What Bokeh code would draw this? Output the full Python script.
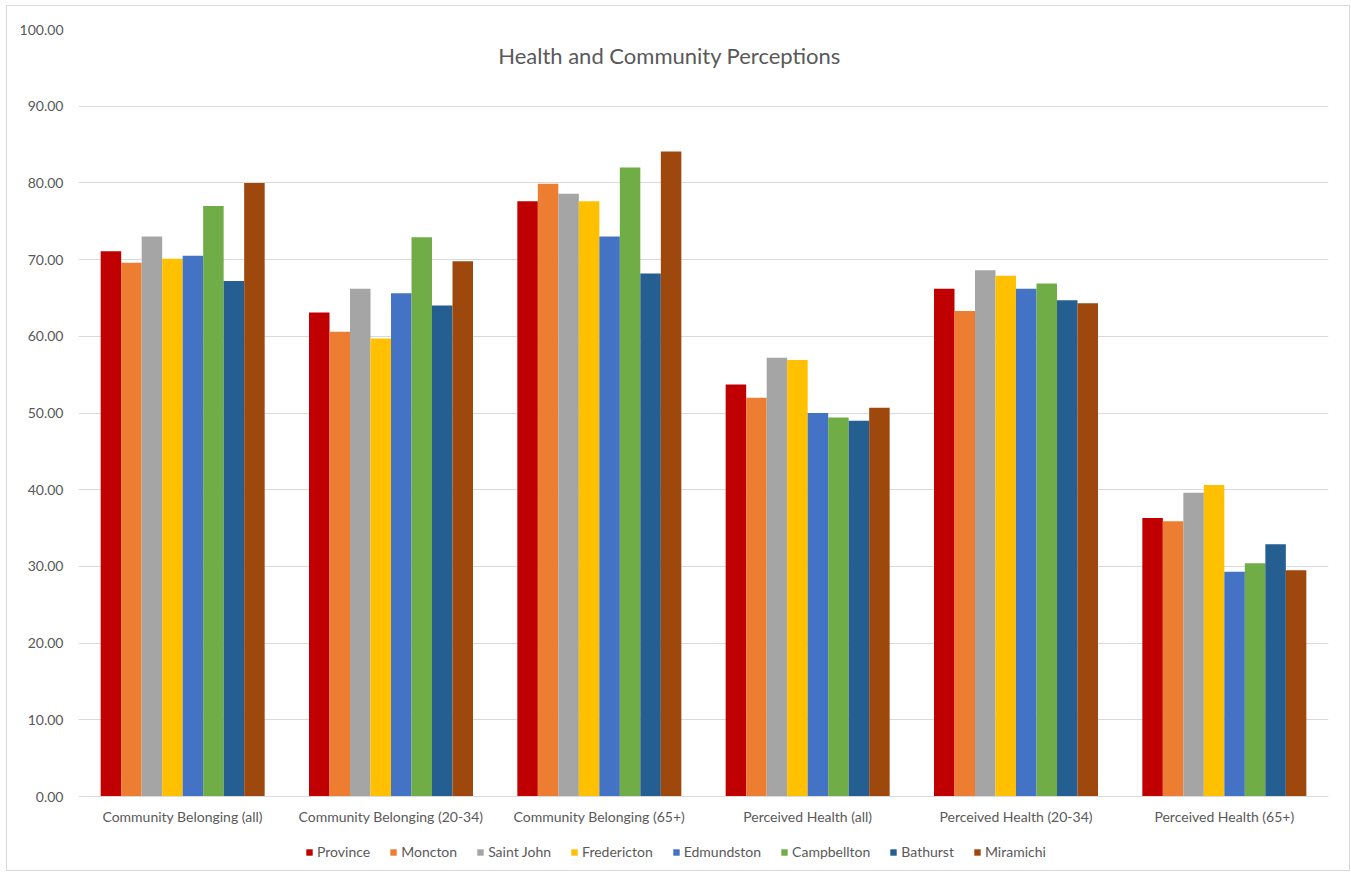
from bokeh.plotting import figure
from bokeh.models import Legend, LegendItem, Label, NumeralTickFormatter, FixedTicker, Range1d
from bokeh.transform import dodge
from bokeh.embed import file_html
from bokeh.resources import INLINE

categories = ["Community Belonging (all)", "Community Belonging (20-34)", "Community Belonging (65+)",
              "Perceived Health (all)", "Perceived Health (20-34)", "Perceived Health (65+)"]
series = ["Province", "Moncton", "Saint John", "Fredericton", "Edmundston", "Campbellton", "Bathurst", "Miramichi"]
colors = ["#C00000", "#ED7D31", "#A5A5A5", "#FFC000", "#4472C4", "#70AD47", "#255E91", "#9E480E"]

province = [71.1, 63.1, 77.6, 53.7, 66.2, 36.3]
moncton = [69.6, 60.6, 79.9, 52.0, 63.3, 35.9]
saint_john = [73.0, 66.2, 78.6, 57.2, 68.6, 39.6]
fredericton = [70.1, 59.7, 77.6, 56.9, 67.9, 40.6]
edmundston = [70.5, 65.6, 73.0, 50.0, 66.2, 29.3]
campbellton = [77.0, 72.9, 82.0, 49.4, 66.9, 30.4]
bathurst = [67.2, 64.0, 68.2, 49.0, 64.7, 32.9]
miramichi = [80.0, 69.8, 84.1, 50.7, 64.3, 29.5]

values_list = [province, moncton, saint_john, fredericton, edmundston, campbellton, bathurst, miramichi]

data = {"cat": categories}
keys = []
for i, vals in enumerate(values_list):
    k = "s%d" % i
    keys.append(k)
    data[k] = vals

FONT = "Lato"
TXT = "#595959"

# frame spans 29..868 px; value 0 sits at 796 px, leaving room for labels + legend inside
FRAME_H = 839
PX_PER_UNIT = (796 - 29) / 100.0
Y_MIN = -(868 - 796) / PX_PER_UNIT

p = figure(x_range=categories, y_range=Range1d(Y_MIN, 100), frame_width=1250, frame_height=FRAME_H,
           output_backend="svg", toolbar_location=None,
           min_border_left=71, min_border_right=21, min_border_top=23, min_border_bottom=2)
p.margin = (6, 0, 0, 7)
p.styles = {"outline": "1px solid #D9D9D9"}
p.outline_line_color = None
p.background_fill_color = "white"
p.border_fill_color = "white"

bw = 0.0984
renderers = []
for i, k in enumerate(keys):
    r = p.vbar(x=dodge("cat", (i - 3.5) * bw, range=p.x_range), top=k, width=bw, bottom=0,
               source=data, fill_color=colors[i], line_color=None)
    renderers.append(r)

# Axes
p.yaxis.ticker = FixedTicker(ticks=list(range(0, 101, 10)))
p.yaxis.formatter = NumeralTickFormatter(format="0.00")
p.yaxis.axis_line_color = None
p.yaxis.major_tick_line_color = None
p.yaxis.minor_tick_line_color = None
p.yaxis.major_label_text_font = FONT
p.yaxis.major_label_text_font_size = "14px"
p.yaxis.major_label_text_color = TXT
p.yaxis.major_label_standoff = 9

p.xaxis.fixed_location = 0
p.xaxis.axis_line_color = "#D9D9D9"
p.xaxis.major_tick_line_color = None
p.xaxis.minor_tick_line_color = None
p.xaxis.major_label_text_font = FONT
p.xaxis.major_label_text_font_size = "14px"
p.xaxis.major_label_text_color = TXT
p.xaxis.major_label_standoff = 5

p.xgrid.grid_line_color = None
p.ygrid.grid_line_color = "#D9D9D9"
p.ygrid.grid_line_width = 1

title = Label(x=2.837, y=96.6, text="Health and Community Perceptions", text_font=FONT,
              text_font_size="22px", text_color=TXT, text_align="center", text_baseline="middle")
p.add_layout(title)

legend = Legend(items=[LegendItem(label=s, renderers=[r]) for s, r in zip(series, renderers)],
                orientation="horizontal", location=(227, 8),
                glyph_width=8, glyph_height=8, label_standoff=4, spacing=19,
                label_text_font=FONT, label_text_font_size="14px", label_text_color=TXT,
                border_line_color=None, background_fill_alpha=0, padding=4, margin=0)
p.add_layout(legend, "center")

open("out.html", "w").write(file_html(p, INLINE))
